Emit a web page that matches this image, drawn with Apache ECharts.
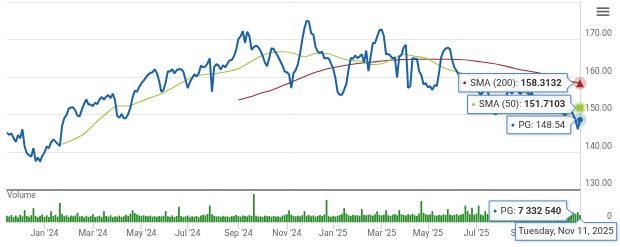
<!DOCTYPE html>
<html><head><meta charset="utf-8">
<script src="https://cdn.jsdelivr.net/npm/echarts@6/dist/echarts.min.js"></script>
<style>html,body{margin:0;padding:0;background:#fff}#c{width:620px;height:247px}</style>
</head><body><div id="c"></div>
<script>
// ---------- DATA ----------
const firstDay = [2023, 10, 14];   // Tue, Nov 14, 2023 (every second weekday sampled)
const lastDay  = [2025, 10, 11];   // Tue, Nov 11, 2025
const monthNames = ['Jan','Feb','Mar','Apr','May','Jun','Jul','Aug','Sep','Oct','Nov','Dec'];
const dayNames = ['Sunday','Monday','Tuesday','Wednesday','Thursday','Friday','Saturday'];
const yTicks = [130, 140, 150, 160, 170, 180];

const prices = [
145.1,144.5,144.9,143.6,142.6,144.5,143.6,146.0,141.4,139.6,
139.1,138.7,141.0,137.5,138.5,137.4,138.9,139.8,141.4,141.0,
142.5,143.3,142.7,142.1,141.5,146.9,149.0,149.8,151.5,151.8,
151.9,151.0,149.6,149.5,151.3,152.8,154.0,152.6,152.6,152.2,
153.1,152.7,154.0,154.6,153.9,154.7,155.1,154.3,155.5,153.8,
149.6,149.1,150.1,148.9,149.0,150.1,151.8,154.5,156.3,156.0,
157.3,158.3,159.0,159.8,160.6,161.0,161.2,162.0,161.0,159.0,
156.0,156.5,158.5,161.5,161.4,162.0,160.9,161.8,162.0,162.0,
161.4,159.2,157.0,158.6,159.7,160.7,160.1,160.9,163.0,162.5,
162.7,163.6,164.9,156.0,162.6,163.4,163.0,161.9,163.1,162.5,
163.5,164.4,164.5,165.5,167.2,170.1,170.8,172.2,169.0,172.0,
170.8,167.2,167.9,168.3,167.9,167.0,165.6,163.8,162.8,165.0,
167.6,167.4,166.4,165.4,164.2,163.0,161.4,161.2,160.6,157.0,
161.0,161.8,163.4,166.3,170.0,173.0,175.0,174.7,171.6,171.3,
168.0,166.7,166.4,166.7,164.9,165.0,164.9,163.5,162.3,159.7,
156.0,155.2,155.2,156.6,158.2,162.0,165.0,164.8,165.7,165.0,
165.4,166.0,163.8,167.0,161.5,165.4,169.0,169.0,170.8,172.4,
172.6,170.8,166.0,166.1,165.6,164.9,165.2,159.8,165.4,165.8,
167.9,168.5,157.0,157.5,165.0,164.8,164.8,161.5,160.5,158.0,
158.3,157.2,157.5,156.5,157.8,157.5,160.9,165.2,166.8,167.5,
167.8,167.4,164.4,162.5,161.6,160.5,158.5,157.0,158.0,159.0,
158.2,160.0,159.5,157.8,156.0,155.2,156.0,157.5,156.5,154.0,
151.0,150.2,150.0,151.2,150.3,152.0,153.8,155.6,156.8,155.5,
156.3,157.2,156.0,155.4,156.5,157.5,156.2,155.0,155.8,154.6,
153.8,154.2,153.2,152.0,151.0,151.4,150.5,151.2,151.8,151.0,
152.0,151.5,150.6,149.6,150.2,151.2,151.0,149.8,148.5,146.0,
148.54
];

// SMA values, one every 5th category
const sma50Start = 25, sma200Start = 105, smaStep = 5;
const sma50 = [142.0,143.2,144.8,147.6,150.2,152.2,152.2,153.3,154.4,155.5,157.0,158.7,160.0,160.6,160.9,161.4,
162.2,163.8,165.5,166.5,166.7,166.3,165.3,166.2,166.2,165.3,164.4,164.2,163.3,163.5,164.8,166.0,
165.5,165.0,163.4,162.0,161.2,160.4,159.6,158.7,157.7,156.7,155.7,154.7,153.9,153.1,152.3,151.7103];
const sma200 = [153.8,154.6,155.6,156.4,157.6,158.8,160.1,161.2,162.1,162.7,163.2,163.6,163.9,164.2,164.5,164.6,
164.7,164.7,164.7,164.7,164.6,164.4,164.0,163.6,163.0,162.3,161.7,161.2,160.5,159.7,158.9,158.3132];

// volume in millions of shares
const volumes = [
6.5,5.8,7.2,5.1,6.8,4.9,7.5,6.0,12.0,6.3,
5.5,7.0,14.0,6.2,5.0,6.6,7.8,5.4,6.9,5.2,
11.0,6.4,7.3,5.6,19.0,8.2,6.1,7.0,5.3,6.7,
5.9,6.8,9.5,5.7,6.2,5.0,6.5,5.4,6.0,8.0,
5.2,5.8,6.4,5.1,11.0,6.3,5.5,6.9,5.0,6.1,
5.6,6.7,5.3,6.0,7.4,6.2,8.5,12.0,9.0,7.6,
6.8,6.2,7.0,6.4,5.9,6.6,5.7,6.1,5.4,6.3,
5.8,6.5,11.0,6.0,5.5,6.9,5.2,6.4,15.5,6.2,
5.3,5.9,6.7,5.1,6.0,5.6,6.3,5.0,6.8,7.4,
6.9,8.2,16.5,8.0,6.6,5.8,6.1,5.4,6.5,5.7,
6.0,5.3,6.4,5.9,7.2,6.1,5.6,6.8,6.3,5.8,
7.0,6.2,28.0,6.5,5.7,6.0,5.4,6.6,5.9,6.2,
5.5,6.3,5.8,6.0,5.2,6.7,7.1,8.0,12.0,7.5,
6.4,5.9,6.6,6.1,7.0,11.0,6.5,7.2,6.0,6.8,
5.7,6.4,7.3,6.2,7.8,22.0,6.0,5.4,6.5,5.8,
6.6,7.2,8.4,14.0,8.8,7.0,6.3,7.5,6.8,7.1,
6.5,13.0,7.4,6.9,7.8,7.2,6.6,8.0,11.0,7.3,
6.9,7.6,12.0,7.0,6.4,7.7,8.2,7.1,12.0,8.0,
7.4,6.8,7.9,7.2,8.5,7.0,6.6,8.8,21.0,9.5,
8.0,7.3,7.8,11.0,7.0,6.5,7.4,6.8,7.9,7.2,
13.0,7.6,6.9,7.3,8.1,7.0,7.7,8.4,16.5,11.0,
8.0,14.5,7.5,8.6,16.5,7.8,7.1,11.0,8.2,7.4,
12.0,9.0,8.3,7.6,8.0,7.2,6.9,7.5,6.8,7.3,
6.6,7.1,6.4,7.0,6.7,7.4,6.9,7.8,7.2,8.0,
14.0,7.5,7.0,7.9,8.3,7.6,7.1,8.0,7.4,8.6,
7.8,11.5,8.4,7.9,8.2,9.0,8.8,9.6,8.4,10.0,
7.33254
];

// ---------- categories: every second weekday ----------
function buildDates(){
  const out=[]; let t=Date.UTC(firstDay[0],firstDay[1],firstDay[2]);
  const end=Date.UTC(lastDay[0],lastDay[1],lastDay[2]); let k=0;
  while(t<=end){ const wd=new Date(t).getUTCDay();
    if(wd!==0&&wd!==6){ if(k%2===0) out.push(new Date(t).toISOString().slice(0,10)); k++; }
    t+=86400000; }
  return out;
}
const dates = buildDates();
const LAST = dates.length-1;
const FONT = 'Roboto, "Noto Sans", sans-serif';
const C_PG = '#1a62a6', C_S50 = '#9cc83e', C_S200 = '#a32a2a', C_VOL = '#258a25', BORDER = '#5088c2';

function mOf(i){ return +dates[i].slice(5,7)-1; }
function tickFn(i){ return i>0 && mOf(i)!==mOf(i-1) && mOf(i)%2===0; }
function monthLabel(v){ return monthNames[+v.slice(5,7)-1]+" '"+v.slice(2,4); }
function longDate(s){ const d=new Date(s+'T00:00:00Z');
  return dayNames[d.getUTCDay()]+', '+monthNames[d.getUTCMonth()]+' '+d.getUTCDate()+', '+d.getUTCFullYear(); }
function fmtVol(v){ return String(Math.round(v*1e6)).replace(/\B(?=(\d{3})+(?!\d))/g,' '); }

const sma50Data = sma50.map((v,k)=>[sma50Start+k*smaStep, v]);
const sma200Data = sma200.map((v,k)=>[sma200Start+k*smaStep, v]);
sma50Data[sma50Data.length-1][0] = LAST; sma200Data[sma200Data.length-1][0] = LAST;

const chart = echarts.init(document.getElementById('c'), null, {renderer:'canvas'});
const yLabel = {fontSize:8.8, color:'#666', fontFamily:FONT, align:'right', margin:32, verticalAlign:'bottom', lineHeight:10};

function endMarks(val, symbol, size, color, halo){
  return {silent:true, animation:false, label:{show:false}, data:[
    {coord:[LAST,val], symbol:'circle', symbolSize:13, itemStyle:{color:halo}},
    {coord:[LAST,val], symbol:symbol, symbolSize:size, itemStyle:{color:color}}
  ]};
}

chart.setOption({
  animation:false,
  textStyle:{fontFamily:FONT},
  title:{text:'Volume', left:7, top:191.5, padding:0, textStyle:{fontSize:8.5, fontWeight:'normal', color:'#666', fontFamily:FONT}},
  grid:[{left:7, right:40, top:1.8, height:187.5},{left:7, right:40, top:192, height:30.3}],
  xAxis:[
    {type:'category', gridIndex:0, data:dates, boundaryGap:false,
     axisLine:{show:true, lineStyle:{color:'#6e6e6e', width:1.6}}, axisTick:{show:false}, axisLabel:{show:false}, splitLine:{show:false}},
    {type:'category', gridIndex:1, data:dates, boundaryGap:false,
     axisLine:{show:false},
     axisTick:{show:true, interval:tickFn, length:7, lineStyle:{color:'#ccd6eb'}},
     axisLabel:{interval:tickFn, formatter:monthLabel, fontSize:8.8, color:'#666', margin:7, fontFamily:FONT}}
  ],
  yAxis:[
    {type:'value', gridIndex:0, position:'right', min:yTicks[0], max:yTicks[yTicks.length-1], interval:10,
     axisLine:{show:true, lineStyle:{color:'#d8d8d8'}}, axisTick:{show:false},
     splitLine:{lineStyle:{color:'#e6e6e6'}},
     axisLabel:Object.assign({formatter:v=> v>=180?'':v.toFixed(2)}, yLabel)},
    {type:'value', gridIndex:1, position:'right', min:0, max:30, interval:30,
     axisLine:{show:true, lineStyle:{color:'#d8d8d8'}}, axisTick:{show:false}, splitLine:{show:false},
     axisLabel:Object.assign({formatter:v=> v===0?'0':''}, yLabel)}
  ],
  series:[
    {name:'Volume', type:'bar', xAxisIndex:1, yAxisIndex:1, data:volumes, barWidth:'78%',
     itemStyle:{color:C_VOL}, silent:true},
    {name:'SMA (200)', type:'line', xAxisIndex:0, yAxisIndex:0, data:sma200Data, showSymbol:false, smooth:0.25,
     lineStyle:{color:C_S200, width:1.1}, z:2, markPoint:endMarks(sma200[sma200.length-1],'triangle',8,C_S200,'rgba(163,42,42,0.25)')},
    {name:'SMA (50)', type:'line', xAxisIndex:0, yAxisIndex:0, data:sma50Data, showSymbol:false, smooth:0.25,
     lineStyle:{color:C_S50, width:1.1}, z:2, markPoint:endMarks(sma50[sma50.length-1],'rect',7,C_S50,'rgba(156,200,62,0.3)')},
    {name:'PG', type:'line', xAxisIndex:0, yAxisIndex:0, data:prices, showSymbol:false,
     lineStyle:{color:C_PG, width:2}, z:3, markPoint:endMarks(prices[LAST],'circle',5.5,C_PG,'rgba(28,101,168,0.25)')}
  ]
});

// ---------- split tooltips anchored on the last points ----------
const mctx = document.createElement('canvas').getContext('2d');
function tw(t, fs, wt){ mctx.font=(wt||'normal')+' '+fs+'px Roboto'; return mctx.measureText(t).width; }
const g = [];
const FS = 9.6;
const boxStyle = {fill:'rgba(255,255,255,0.95)', stroke:BORDER, lineWidth:1, shadowBlur:3, shadowColor:'rgba(0,0,0,0.15)', shadowOffsetX:1, shadowOffsetY:1};
function tip(right, y0, h, tipPt, dotColor, label, val, bold){
  const w = 11.5 + tw(label, FS) + tw(val, FS, bold?'bold':'normal') + 5.5;
  const x0 = right - w, x1 = right, y1 = y0 + h;
  const b0 = Math.max(y0, tipPt[1]-5), b1 = Math.min(y1, tipPt[1]+5);
  g.push({type:'polygon', z:100, shape:{points:[[x0,y0],[x1,y0],[x1,b0],tipPt,[x1,b1],[x1,y1],[x0,y1]]}, style:boxStyle});
  g.push({type:'circle', z:101, shape:{cx:x0+6, cy:y0+h/2, r:1.5}, style:{fill:dotColor}});
  g.push({type:'text', z:101, x:x0+11.5, y:y0+h/2+0.5, style:{text:label+'{v|'+val+'}', fill:'#333', fontSize:FS, fontFamily:'Roboto',
    verticalAlign:'middle', align:'left', rich:{v:{fontWeight:bold?'bold':'normal', fontSize:FS, fontFamily:'Roboto', fill:'#333'}}}});
}
const p200 = chart.convertToPixel({gridIndex:0}, [LAST, sma200[sma200.length-1]]);
const p50  = chart.convertToPixel({gridIndex:0}, [LAST, sma50[sma50.length-1]]);
const pPG  = chart.convertToPixel({gridIndex:0}, [LAST, prices[LAST]]);
const pV   = chart.convertToPixel({gridIndex:1}, [LAST, volumes[LAST]]);
const pV0  = chart.convertToPixel({gridIndex:1}, [LAST, 0]);

tip(p200[0]-12.7, p200[1]-9.6, 18.4, [p200[0]-6.5, p200[1]], C_S200, 'SMA (200): ', sma200[sma200.length-1].toFixed(4), true);
tip(p50[0]-9.3, p50[1]-12.7, 18.4, [p50[0]-4.5, p50[1]], C_S50, 'SMA (50): ', sma50[sma50.length-1].toFixed(4), true);
tip(pPG[0]-9.3, pPG[1]-3.8, 17.8, [pPG[0]-4.5, pPG[1]], C_PG, 'PG: ', prices[LAST].toFixed(2), false);
tip(pV[0]-13.3, pV[1]-14, 20, [pV[0]-6.5, pV[1]-1], C_PG, 'PG: ', fmtVol(volumes[LAST]), true);

// date header
(function(){
  const txt = longDate(dates[LAST]);
  const w = tw(txt, FS) + 6, h = 17.7;
  const x1 = Math.min(pV0[0] + w/2, 620-3.3), x0 = x1 - w, y0 = pV0[1] + 0.3, y1 = y0 + h;
  const ax = pV0[0];
  g.push({type:'polygon', z:100, shape:{points:[[x0,y0],[ax-4,y0],[ax,y0-4],[ax+4,y0],[x1,y0],[x1,y1],[x0,y1]]}, style:boxStyle});
  g.push({type:'text', z:101, x:(x0+x1)/2, y:(y0+y1)/2+0.5, style:{text:txt, fill:'#333', fontSize:FS, fontFamily:'Roboto', align:'center', verticalAlign:'middle'}});
})();

// menu icon
[8.2, 11.6, 15.1].forEach(y=>g.push({type:'rect', z:100, shape:{x:596.7, y:y-0.85, width:12.6, height:1.7}, style:{fill:'#666'}}));

chart.setOption({graphic:g});
</script>
</body></html>
